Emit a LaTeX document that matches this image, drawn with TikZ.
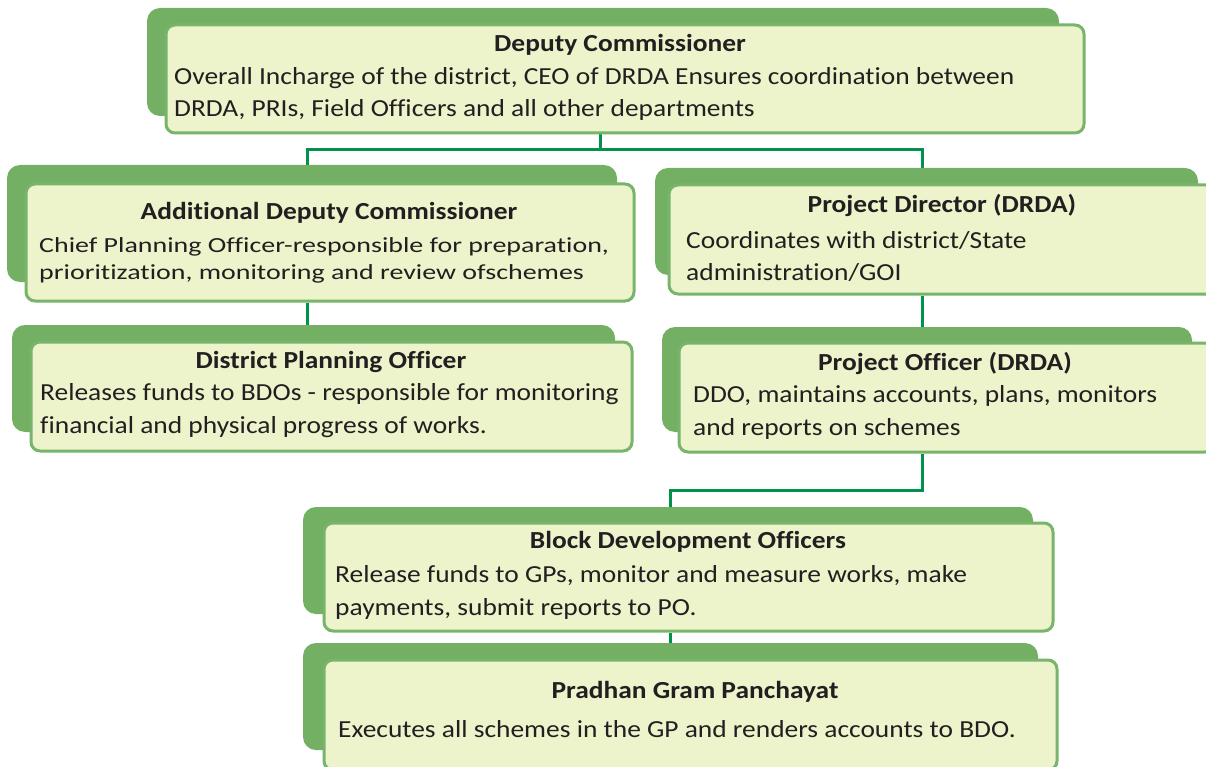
\documentclass[tikz,border=0pt]{standalone}
\usepackage{graphicx}
\usepackage{fontspec}
\setmainfont{Carlito}[Ligatures=NoCommon]
\pgfdeclarelayer{bg}
\pgfsetlayers{bg,main}
\definecolor{backg}{HTML}{73B064}
\definecolor{frontf}{HTML}{EDF3CB}
\definecolor{frontd}{HTML}{78B56A}
\definecolor{connc}{HTML}{00914C}
\definecolor{txt}{HTML}{231F20}
\newcommand\widetxt[1]{\scalebox{1.12}[1]{#1}}
\newcommand\widertxt[1]{\scalebox{1.3}[1]{#1}}
\tikzset{
  backbox/.style={fill=backg, draw=none, rounded corners=13pt, inner sep=0pt, outer sep=0pt},
  frontbox/.style={fill=frontf, draw=frontd, line width=3pt, rounded corners=9pt, inner sep=0pt},
  conn/.style={draw=connc, line width=3pt},
  ttl/.style={anchor=base, inner sep=0pt, text=txt, font=\fontsize{24.5}{28}\selectfont\bfseries},
  bodytxt/.style={anchor=base west, inner sep=0pt, text=txt, font=\fontsize{24.5}{28}\selectfont},
  smalltxt/.style={anchor=base west, inner sep=0pt, text=txt, font=\fontsize{21.5}{26}\selectfont},
}
\newcommand\obox[9]{%
  \node[backbox, minimum width={#4-#2}, minimum height={#5-#3}] (#1b) at ({(#2+#4)/2},{(#3+#5)/2}) {};
  \node[frontbox, minimum width={#8-#6}, minimum height={#9-#7}] (#1) at ({(#6+#8)/2},{(#7+#9)/2}) {};
}
\begin{document}
\begin{tikzpicture}[x=1pt,y=-1pt]
\useasboundingbox (0,0) rectangle (1206,767);
\clip (0,0) rectangle (1206,767);
% boxes
\obox{dc}{147}{8}{1059}{116}{166}{25}{1084}{133}
\obox{adc}{7}{165}{617}{282}{26}{184}{634}{301}
\obox{pd}{655}{168}{1198}{275}{669}{185}{1216}{294}
\obox{dpo}{12}{325}{615}{432}{31}{342}{632}{451}
\obox{po}{662}{327}{1192}{432}{679}{343}{1214}{452}
\obox{bdo}{303}{507}{1033}{614}{324}{523}{1053}{631}
\obox{pgp}{303}{643}{1038}{750}{324}{660}{1057}{770}
% texts
\node[ttl] (dct) at (620,52) {\widetxt{Deputy Commissioner}};
\node[bodytxt] (dc1) at (174,85) {\widetxt{Overall Incharge of the district, CEO of DRDA Ensures coordination between}};
\node[bodytxt] (dc2) at (174,117) {\widetxt{DRDA, PRIs, Field Officers and all other departments}};
\node[ttl] (adct) at (329,220) {\widetxt{Additional Deputy Commissioner}};
\node[smalltxt] (adc1) at (39,252) {\widertxt{Chief Planning Officer-responsible for preparation,}};
\node[smalltxt] (adc2) at (39,279) {\widertxt{prioritization, monitoring and review ofschemes}};
\node[ttl] (pdt) at (942,213) {\widetxt{Project Director (DRDA)}};
\node[bodytxt] (pd1) at (686,248) {\widetxt{Coordinates with district/State}};
\node[bodytxt] (pd2) at (686,280) {\widetxt{administration/GOI}};
\node[ttl] (dpot) at (331,368) {\widetxt{District Planning Officer}};
\node[bodytxt] (dpo1) at (40,400) {\widetxt{Releases funds to BDOs - responsible for monitoring}};
\node[bodytxt] (dpo2) at (40,433) {\widetxt{financial and physical progress of works.}};
\node[ttl] (pot) at (945,370) {\widetxt{Project Officer (DRDA)}};
\node[bodytxt] (po1) at (693,402) {\widetxt{DDO, maintains accounts, plans, monitors}};
\node[bodytxt] (po2) at (693,435) {\widetxt{and reports on schemes}};
\node[ttl] (bdot) at (688,548) {\widetxt{Block Development Officers}};
\node[bodytxt] (bdo1) at (335,582) {\widetxt{Release funds to GPs, monitor and measure works, make}};
\node[bodytxt] (bdo2) at (335,615) {\widetxt{payments, submit reports to PO.}};
\node[ttl] (pgpt) at (695,698) {\widetxt{Pradhan Gram Panchayat}};
\node[bodytxt] (pgp1) at (338,737) {\widetxt{Executes all schemes in the GP and renders accounts to BDO.}};
% connectors
\coordinate (jc) at (600,150);
\coordinate (ja) at (307,150);
\coordinate (jb) at (922,150);
\coordinate (jd) at (922,490);
\coordinate (je) at (670,490);
\begin{pgfonlayer}{bg}
\draw[conn] (dc.south -| jc) -- (jc);
\draw[conn] (adc.north -| ja) -- (ja) -- (jb) -- (pd.north -| jb);
\draw[conn] (adc.south -| ja) -- (dpo.north -| ja);
\draw[conn] (pd.south -| jb) -- (po.north -| jb);
\draw[conn] (po.south -| jd) -- (jd) -- (je) -- (bdo.north -| je);
\draw[conn] (bdo.south -| je) -- (pgp.north -| je);
\end{pgfonlayer}
\end{tikzpicture}
\end{document}
